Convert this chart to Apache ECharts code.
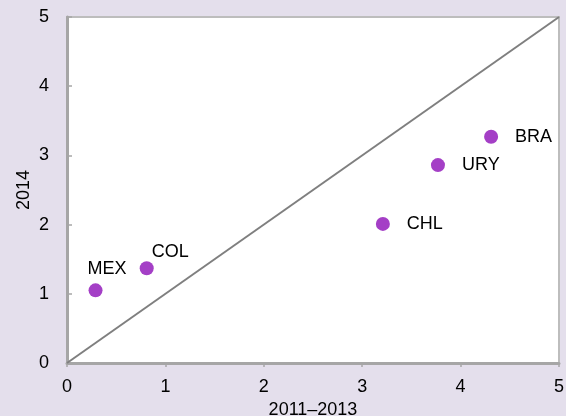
<!DOCTYPE html>
<html>
<head>
<meta charset="utf-8">
<script src="https://cdn.jsdelivr.net/npm/echarts@6/dist/echarts.min.js"></script>
<style>
html,body{margin:0;padding:0;background:#e4dfec;}
#c{width:566px;height:416px;}
</style>
</head>
<body>
<div id="c"></div>
<script>
const countries = ['MEX', 'COL', 'CHL', 'URY', 'BRA'];
const x2011_2013 = [0.29, 0.81, 3.21, 3.77, 4.31];
const y2014 = [1.05, 1.37, 2.01, 2.86, 3.27];
const diagonalX = [0, 5];
const diagonalY = [0, 5];
const axisTicks = [0, 1, 2, 3, 4, 5];

const chart = echarts.init(document.getElementById('c'));
const pts = countries.map((c, i) => ({
  name: c,
  value: [x2011_2013[i], y2014[i]],
  label: c === 'MEX' ? {position: [-1, -23]} : c === 'COL' ? {position: [12, -18]} : {position: 'right', distance: 17}
}));
chart.setOption({
  animation: false,
  backgroundColor: '#e4dfec',
  textStyle: {fontFamily: 'Liberation Sans, Arial, sans-serif'},
  grid: {left: 67, right: 7, top: 17, bottom: 53, containLabel: false, outerBoundsMode: 'none', show: true, backgroundColor: '#ffffff', borderColor: '#bdbdbd', borderWidth: 2},
  xAxis: {
    type: 'value', min: axisTicks[0], max: axisTicks[axisTicks.length - 1], interval: 1,
    name: '2011–2013', nameLocation: 'middle', nameGap: 37,
    nameTextStyle: {fontSize: 18, color: '#000'},
    axisLine: {show: true, lineStyle: {color: '#a6a6a6', width: 3}},
    axisTick: {show: true, inside: false, length: 4, lineStyle: {color: '#a6a6a6', width: 1.5}},
    axisLabel: {fontSize: 18, color: '#000', margin: 15},
    splitLine: {show: false}
  },
  yAxis: {
    type: 'value', min: axisTicks[0], max: axisTicks[axisTicks.length - 1], interval: 1,
    name: '2014', nameLocation: 'middle', nameGap: 34, nameRotate: 90, nameMoveOverlap: false,
    nameTextStyle: {fontSize: 18, color: '#000'},
    axisLine: {show: true, lineStyle: {color: '#a6a6a6', width: 3}},
    axisTick: {show: true, inside: true, length: 5, lineStyle: {color: '#a6a6a6', width: 1.5}},
    axisLabel: {fontSize: 18, color: '#000', margin: 18},
    splitLine: {show: false}
  },
  series: [
    {
      type: 'line',
      data: diagonalX.map((v, i) => [v, diagonalY[i]]),
      symbol: 'none',
      lineStyle: {color: '#7f7f7f', width: 2},
      z: 2
    },
    {
      type: 'scatter',
      data: pts,
      symbolSize: 14,
      itemStyle: {color: '#a43fc6', opacity: 1},
      label: {show: true, formatter: '{b}', fontSize: 18, color: '#000'},
      z: 3
    }
  ]
});
</script>
</body>
</html>
